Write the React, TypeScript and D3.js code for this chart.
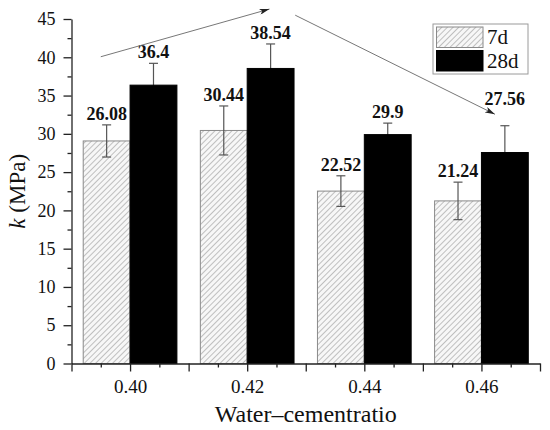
import React, { useEffect, useRef } from "react";
import * as d3 from "d3";

// water-cement ratios on the x axis
const ratios = [0.4, 0.42, 0.44, 0.46];
const ratioLabels = ["0.40", "0.42", "0.44", "0.46"];

// compressive strength (MPa), bar heights
const strength7d = [29.07, 30.44, 22.52, 21.24];
const strength28d = [36.36, 38.54, 29.9, 27.56];

// error bar half-widths
const err7d = [2.1, 3.2, 2.0, 2.45];
const err28d = [2.85, 3.2, 1.5, 3.5];

// value labels printed above the bars (as in the original figure)
const labels7d = ["26.08", "30.44", "22.52", "21.24"];
const labels28d = ["36.4", "38.54", "29.9", "27.56"];

const yTicks = [0, 5, 10, 15, 20, 25, 30, 35, 40, 45];
const yMinorTicks = [2.5, 7.5, 12.5, 17.5, 22.5, 27.5, 32.5, 37.5, 42.5];
const xMajorTicks = [0.39, 0.4, 0.41, 0.42, 0.43, 0.44, 0.45, 0.46, 0.47];
const xMinorTicks = [0.395, 0.405, 0.415, 0.425, 0.435, 0.445, 0.455, 0.465];

// trend arrows, in data coordinates [ratio, MPa]
const arrowStarts: [number, number][] = [
  [0.395, 40.07],
  [0.4282, 45.5],
];
const arrowEnds: [number, number][] = [
  [0.4238, 46.3],
  [0.4623, 32.56],
];

const series = ["7d", "28d"];

const FONT = "'Liberation Serif', 'Times New Roman', serif";

export default function App() {
  const svgRef = useRef<SVGSVGElement | null>(null);
  const width = 550;
  const height = 430;

  useEffect(() => {
    const svg = d3.select(svgRef.current);
    svg.selectAll("*").remove();

    const barW = 0.008;
    const x = d3.scaleLinear().domain([0.39, 0.47]).range([71.5, 540]);
    const y = d3.scaleLinear().domain([0, 45]).range([363.5, 19]);

    const defs = svg.append("defs");
    const hatch = defs
      .append("pattern")
      .attr("id", "hatch")
      .attr("patternUnits", "userSpaceOnUse")
      .attr("width", 4)
      .attr("height", 4)
      .attr("patternTransform", "rotate(45)");
    hatch.append("rect").attr("width", 4).attr("height", 4).attr("fill", "#f7f7f7");
    hatch
      .append("line")
      .attr("x1", 0)
      .attr("y1", 0)
      .attr("x2", 0)
      .attr("y2", 4)
      .attr("stroke", "#9a9a9a")
      .attr("stroke-width", 1.2);

    defs
      .append("marker")
      .attr("id", "arrowhead")
      .attr("markerUnits", "userSpaceOnUse")
      .attr("viewBox", "0 0 10 6")
      .attr("refX", 10)
      .attr("refY", 3)
      .attr("markerWidth", 11)
      .attr("markerHeight", 6)
      .attr("orient", "auto")
      .append("path")
      .attr("d", "M0,0 L10,3 L0,6 L2.5,3 Z")
      .attr("fill", "#222");

    const drawErrors = (s: number) => {
      const vals = s === 0 ? strength7d : strength28d;
      const errs = s === 0 ? err7d : err28d;
      vals.forEach((v, i) => {
        const cx = x(ratios[i] - barW / 2 + s * barW);
        const g = svg.append("g").attr("stroke", "#555").attr("stroke-width", 1.2);
        g.append("line")
          .attr("x1", cx)
          .attr("x2", cx)
          .attr("y1", y(v - errs[i]))
          .attr("y2", y(v + errs[i]));
        [v - errs[i], v + errs[i]].forEach((e) => {
          g.append("line")
            .attr("x1", cx - 4.5)
            .attr("x2", cx + 4.5)
            .attr("y1", y(e))
            .attr("y2", y(e));
        });
      });
    };

    // 28d error bars sit behind the solid bars, so only the upper half shows
    drawErrors(1);

    // bars
    const fills = ["url(#hatch)", "#000"];
    const strokes = ["#8a8a8a", "#000"];
    [strength7d, strength28d].forEach((vals, s) => {
      svg
        .append("g")
        .selectAll("rect")
        .data(vals)
        .join("rect")
        .attr("x", (_, i) => x(ratios[i] - barW + s * barW))
        .attr("width", x(barW) - x(0))
        .attr("y", (d) => y(d))
        .attr("height", (d) => y(0) - y(d))
        .attr("fill", fills[s])
        .attr("stroke", strokes[s])
        .attr("stroke-width", 1);
    });

    drawErrors(0);

    // value labels
    [strength7d, strength28d].forEach((vals, s) => {
      const errs = s === 0 ? err7d : err28d;
      const texts = s === 0 ? labels7d : labels28d;
      vals.forEach((v, i) => {
        const lift = s === 1 && i === 3 ? 21 : 5;
        svg
          .append("text")
          .attr("x", x(ratios[i] - barW / 2 + s * barW))
          .attr("y", y(v + errs[i]) - lift)
          .attr("text-anchor", "middle")
          .attr("font-family", FONT)
          .attr("font-weight", "bold")
          .attr("font-size", 18)
          .attr("fill", "#111")
          .text(texts[i]);
      });
    });

    // trend arrows
    arrowStarts.forEach((a, i) => {
      const b = arrowEnds[i];
      svg
        .append("line")
        .attr("x1", x(a[0]))
        .attr("y1", y(a[1]))
        .attr("x2", x(b[0]))
        .attr("y2", y(b[1]))
        .attr("stroke", "#777")
        .attr("stroke-width", 1)
        .attr("marker-end", "url(#arrowhead)");
    });

    // y axis
    const yAxis = svg
      .append("g")
      .attr("transform", `translate(${x(0.39)},0)`)
      .call(d3.axisLeft(y).tickValues(yTicks).tickSize(8).tickSizeOuter(0).tickPadding(8));
    yAxis
      .append("g")
      .call(d3.axisLeft(y).tickValues(yMinorTicks).tickSize(4).tickFormat(() => ""))
      .select(".domain")
      .remove();

    // x axis
    const xAxis = svg
      .append("g")
      .attr("transform", `translate(0,${y(0)})`)
      .call(
        d3
          .axisBottom(x)
          .tickValues(xMajorTicks)
          .tickSize(8)
          .tickSizeOuter(0)
          .tickPadding(8)
          .tickFormat((d) => {
            const k = ratios.findIndex((r) => Math.abs(r - +d) < 1e-9);
            return k >= 0 ? ratioLabels[k] : "";
          })
      );
    xAxis
      .append("g")
      .call(d3.axisBottom(x).tickValues(xMinorTicks).tickSize(4).tickFormat(() => ""))
      .select(".domain")
      .remove();

    [yAxis, xAxis].forEach((ax) => {
      ax.selectAll("path, line").attr("stroke", "#222").attr("stroke-width", 1.3);
      ax.selectAll("text").attr("font-family", FONT).attr("fill", "#111");
    });
    yAxis.selectAll("text").attr("font-size", 18);
    xAxis.selectAll("text").attr("font-size", 19);

    // axis titles
    svg
      .append("text")
      .attr("x", (x(0.39) + x(0.47)) / 2)
      .attr("y", 422)
      .attr("text-anchor", "middle")
      .attr("font-family", FONT)
      .attr("font-size", 24)
      .attr("fill", "#111")
      .text("Water–cementratio");

    const yTitle = svg
      .append("text")
      .attr("transform", `translate(25,${(y(0) + y(45)) / 2}) rotate(-90)`)
      .attr("text-anchor", "middle")
      .attr("font-family", FONT)
      .attr("font-size", 23)
      .attr("fill", "#111");
    yTitle.append("tspan").attr("font-style", "italic").text("k");
    yTitle.append("tspan").text(" (MPa)");

    // legend
    const legend = svg.append("g").attr("transform", "translate(433,24)");
    legend
      .append("rect")
      .attr("width", 95)
      .attr("height", 50)
      .attr("fill", "#fff")
      .attr("stroke", "#9a9a9a")
      .attr("stroke-width", 1);
    series.forEach((name, s) => {
      legend
        .append("rect")
        .attr("x", 3.5)
        .attr("y", 3 + s * 23.5)
        .attr("width", 46.5)
        .attr("height", 20.5)
        .attr("fill", fills[s])
        .attr("stroke", strokes[s]);
      legend
        .append("text")
        .attr("x", 54)
        .attr("y", 19.5 + s * 24.5)
        .attr("font-family", FONT)
        .attr("font-size", 21)
        .attr("fill", "#111")
        .text(name);
    });
  }, []);

  return (
    <svg
      ref={svgRef}
      width={width}
      height={height}
      style={{ position: "absolute", left: 0, top: 0, background: "#fff" }}
    ></svg>
  );
}
